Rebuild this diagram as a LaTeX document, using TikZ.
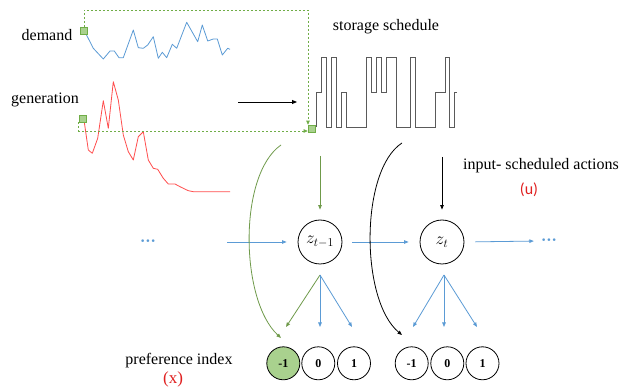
\documentclass[tikz,border=0pt]{standalone}
\usepackage{fontspec}
\setmainfont{Liberation Serif}
\newfontfamily\tnr{Liberation Serif}
\newfontfamily\calibri{Carlito}
\newfontfamily\djv{DejaVu Sans}
\usetikzlibrary{arrows.meta,calc}
\definecolor{myblue}{HTML}{5B9BD5}
\definecolor{myred}{HTML}{FF4D4D}
\definecolor{gfill}{HTML}{A9D18E}
\definecolor{gline}{HTML}{70AD47}
\definecolor{gcurve}{HTML}{6F9A4A}
\definecolor{wave}{HTML}{5A5A5A}
\definecolor{txtred}{HTML}{E02020}
\begin{document}
\begin{tikzpicture}[x=1pt,y=-1pt,
 lbl/.style={inner sep=1pt, font=\tnr\fontsize{16}{19}\selectfont},
 sq/.style={draw=gline, fill=gfill, minimum size=7pt, inner sep=0pt, line width=0.6pt},
 dsh/.style={draw=gline, line width=0.7pt, dash pattern=on 2pt off 2pt, -{Triangle[length=4pt,width=3.5pt]}},
 zc/.style={circle, draw, line width=0.8pt, minimum size=44pt, inner sep=0pt, font=\fontsize{17}{20}\selectfont},
 bc/.style={circle, draw, line width=0.8pt, minimum size=33pt, inner sep=0pt, font=\tnr\fontsize{12}{14}\selectfont\bfseries},
 barrow/.style={draw=myblue, line width=0.8pt, -{Triangle[length=4.5pt,width=3.5pt]}},
 garrow/.style={draw=gcurve, line width=0.8pt, -{Triangle[length=4.5pt,width=3.5pt]}},
 karrow/.style={draw=black, line width=0.8pt, -{Triangle[length=4.5pt,width=3.5pt]}},
 bluedots/.style={text=myblue, inner sep=1pt, font=\djv\fontsize{9}{10}\selectfont}
]
\useasboundingbox[fill=white] (0,0) rectangle (625,390);

% labels
\node[lbl] (demand) at (47,35) {demand};
\node[lbl] (gen) at (45,100) {generation};
\node[lbl] (stor) at (386,27) {storage schedule};
\node[lbl] (inp) at (541,166) {input- scheduled actions};
\node[inner sep=1pt, text=txtred, font=\calibri\fontsize{16}{19}\selectfont] (u) at (529,190) {(u)};
\node[lbl] (pref) at (179,361) {preference index};
\node[inner sep=1pt, text=txtred, font=\tnr\fontsize{17}{20}\selectfont] (x) at (173,379) {(x)};

% time series curves
\draw[myblue, line width=0.8pt, line join=round] (85,32) -- (93.3,48.3) -- (103.3,59) -- (110,51) -- (114.3,51) -- (119,57.7) -- (123.3,57.7) -- (133.3,30) -- (138.3,47.7) -- (143.3,48.3) -- (147.7,45) -- (153.3,36.7) -- (158.3,58.3) -- (162.3,52.3) -- (166.7,57.7) -- (172.3,44.3) -- (176.7,48.3) -- (186.7,22.3) -- (197.7,41.7) -- (202.3,25) -- (207.7,41) -- (213.3,39) -- (217.3,39) -- (222.3,55) -- (227.7,48.3) -- (230,49.3);
\draw[myred, line width=0.8pt, line join=round] (84,120) -- (88.3,150) -- (92.3,153.3) -- (97.7,138.3) -- (103.3,100.7) -- (108.3,128.3) -- (113.3,81.7) -- (118.3,100) -- (123.3,135) -- (128.3,151.7) -- (133.3,160) -- (138.3,136.7) -- (143.3,131.7) -- (148.3,160) -- (153.3,168.3) -- (157.7,169.3) -- (163.3,178.3) -- (168.3,184) -- (175,184) -- (180,186.7) -- (188.3,190.7) -- (193.3,191.7) -- (230,191.7);

% storage waveform
\draw[wave, line width=0.8pt] (316,127) -- (316,92) -- (321,92) -- (321,57) -- (326,57) -- (326,127) -- (331,127) -- (331,57) -- (336,57) -- (336,127) -- (341,127) -- (341,92) -- (346,92) -- (346,127) -- (366,127) -- (366,57) -- (371,57) -- (371,92) -- (376,92) -- (376,57) -- (381,57) -- (381,92) -- (386,92) -- (386,57) -- (396,57) -- (396,127) -- (410,127) -- (410,57) -- (415,57) -- (415,127) -- (435,127) -- (435,92) -- (445,92) -- (445,57) -- (449,57) -- (449,127) -- (454,127) -- (454,92) -- (457,92);

% squares
\node[sq] (sqd) at (84,31) {};
\node[sq] (sqg) at (82.5,118.5) {};
\node[sq] (sqs) at (311.5,128.5) {};

% dashed connectors
\draw[dsh] (sqd.north) -- (84,10) -| ([xshift=-3.5pt]sqs.north);
\draw[dsh] (sqg.south west) |- ([yshift=-2.5pt]sqs.west);

% black arrow generation -> storage
\coordinate (a1) at (238,102);
\coordinate (a2) at (297,102);
\draw[draw=black, line width=0.9pt, -{Triangle[length=5pt,width=4pt]}] (a1) -- (a2);

% hidden states
\node[zc] (z1) at (320,242) {$z_{t-1}$};
\node[zc] (z2) at (442,242) {$z_t$};
\node[bluedots] (d1) at (148,242) {•••};
\node[bluedots] (d2) at (549,241) {•••};

\draw[barrow, shorten <=70pt, shorten >=11pt] (d1.east) -- (z1.west);
\draw[barrow, shorten <=10pt, shorten >=11pt] (z1.east) -- (z2.west);
\draw[barrow, shorten <=11pt, shorten >=6pt] (z2.east) -- (d2.west);

% inputs
\coordinate (u1) at (320,156);
\coordinate (u2) at (442,157);
\draw[garrow, shorten >=10pt] (u1) -- (z1.north);
\draw[karrow, shorten >=10pt] (u2) -- (z2.north);

% observation circles
\node[bc, fill=gfill] (c11) at (283.3,363.3) {-1};
\node[bc] (c12) at (318.3,363.3) {0};
\node[bc] (c13) at (354,363.3) {1};
\node[bc] (c21) at (411.7,363.3) {-1};
\node[bc] (c22) at (447.3,363.3) {0};
\node[bc] (c23) at (482.5,363.3) {1};

% emission branches
\coordinate (b1) at (320,275);
\coordinate (b2) at (444,275);
\coordinate (t11) at (286,327);
\coordinate (t12) at (320,327);
\coordinate (t13) at (352,327);
\coordinate (t21) at (413,327);
\coordinate (t22) at (444,327);
\coordinate (t23) at (477,327);
\draw[garrow] (b1) -- (t11);
\draw[barrow] (b1) -- (t12);
\draw[barrow] (b1) -- (t13);
\draw[barrow] (b2) -- (t21);
\draw[barrow] (b2) -- (t22);
\draw[barrow] (b2) -- (t23);

% feedback curves
\coordinate (g1) at (281,145);
\coordinate (g2) at (281,338);
\coordinate (k1) at (402,143);
\coordinate (k2) at (402,335);
\draw[garrow] (g1) .. controls (238,175) and (240,300) .. (g2);
\draw[karrow] (k1) .. controls (360,170) and (360,300) .. (k2);
\end{tikzpicture}
\end{document}
